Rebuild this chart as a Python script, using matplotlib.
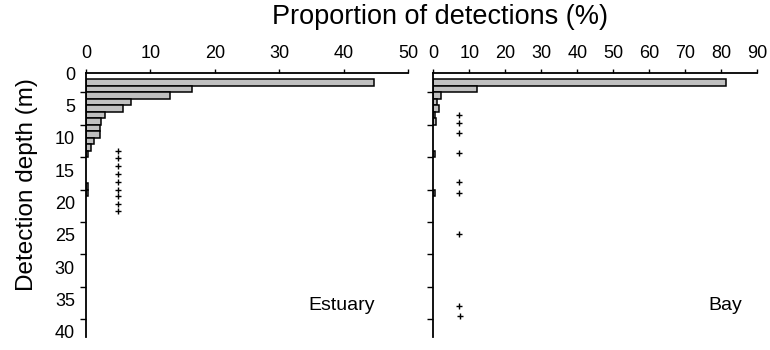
import numpy as np
import matplotlib
matplotlib.use("Agg")
import matplotlib.pyplot as plt

plt.rcParams['font.family'] = ['Liberation Sans', 'DejaVu Sans']

# depth bins (m, top of 1 m bin) and proportion of detections (%)
est_depth = [1, 2, 3, 4, 5, 6, 7, 8, 9, 10, 11, 12, 17, 18]
est_pct = [44.7, 16.4, 13.0, 7.0, 5.8, 3.0, 2.4, 2.2, 2.2, 1.2, 0.7, 0.3, 0.3, 0.3]

bay_depth = [1, 2, 3, 4, 5, 6, 7, 12, 18]
bay_pct = [81.3, 12.0, 2.0, 1.0, 1.5, 0.4, 0.8, 0.5, 0.5]

# tag depth markers
est_tag_x = 5.0
est_tag_depth = [12.0, 13.2, 14.4, 15.6, 16.8, 18.1, 19.0, 20.2, 21.3]
bay_tag_x = [7.1, 7.1, 7.1, 7.1, 7.1, 7.1, 7.1, 7.1, 7.3]
bay_tag_depth = [6.5, 7.8, 9.2, 12.4, 16.8, 18.6, 24.8, 36.0, 37.6]

fig = plt.figure(figsize=(7.7, 3.5), dpi=100)

bottom = (350 - 336.5) / 350
height = 263.5 / 350
ax1 = fig.add_axes([86 / 770, bottom, 322 / 770, height])
ax2 = fig.add_axes([433.3 / 770, bottom, 324 / 770, height])


def style(ax, xmax, show_labels):
    ax.set_xlim(0, xmax)
    ax.set_ylim(40.7, 0)
    for s in ['right', 'bottom']:
        ax.spines[s].set_visible(False)
    for s in ['top', 'left']:
        ax.spines[s].set_linewidth(1.3)
    ax.xaxis.tick_top()
    ax.set_xticks(np.arange(0, xmax + 1, 10))
    ax.tick_params(axis='x', direction='out', length=3, width=1, pad=5,
                   labelsize=13)
    ax.set_yticks(np.arange(0, 41, 5))
    ax.set_yticks(np.arange(3, 40, 5), minor=True)
    ax.tick_params(axis='y', which='major', length=0, pad=8, labelsize=13,
                   labelleft=show_labels)
    ax.tick_params(axis='y', which='minor', direction='out', length=4, width=1)


ax1.barh(est_depth, est_pct, height=1.0, align='edge',
         color='#c0c0c0', edgecolor='black', linewidth=1.1)
ax1.plot([est_tag_x] * len(est_tag_depth), est_tag_depth, '+',
         color='black', markersize=5, markeredgewidth=1)
style(ax1, 50, True)
ax1.text(44.9, 35.9, 'Estuary', ha='right', va='center', fontsize=14)

ax2.barh(bay_depth, bay_pct, height=1.0, align='edge',
         color='#c0c0c0', edgecolor='black', linewidth=1.1)
ax2.plot(bay_tag_x, bay_tag_depth, '+',
         color='black', markersize=5, markeredgewidth=1)
style(ax2, 90, False)
ax2.text(85.7, 35.9, 'Bay', ha='right', va='center', fontsize=14)

fig.text(440 / 770, 1 - 17 / 350, 'Proportion of detections (%)',
         ha='center', va='center', fontsize=19.5)
fig.text(27 / 770, 1 - 185 / 350, 'Detection depth (m)',
         ha='center', va='center', rotation=90, fontsize=17.5)

fig.savefig('out.png', dpi=100)
